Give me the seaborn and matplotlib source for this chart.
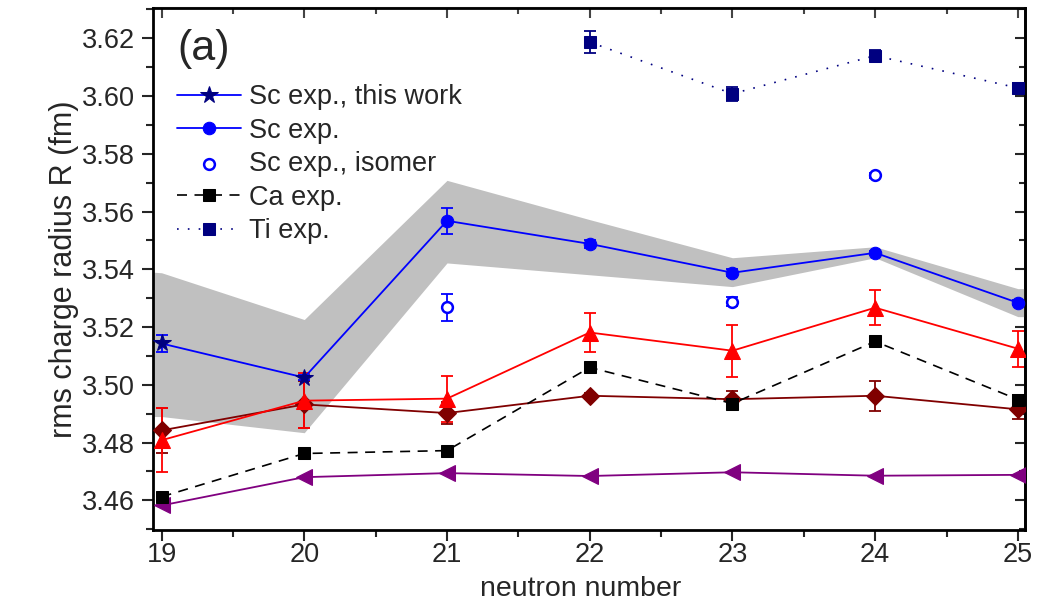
import numpy as np
import pandas as pd
import matplotlib
matplotlib.use("Agg")
import matplotlib.pyplot as plt
import seaborn as sns
from matplotlib.ticker import MultipleLocator

# ---------------- data ----------------
N_all = [19, 20, 21, 22, 23, 24, 25]
y_ticks = [3.46, 3.48, 3.50, 3.52, 3.54, 3.56, 3.58, 3.60, 3.62]

sc_this_N = [19, 20]
sc_this_R = [3.5143, 3.5025]
sc_this_err = [0.0030, 0.0010]

sc_exp_N = [21, 22, 23, 24, 25]
sc_exp_R = [3.5568, 3.5488, 3.5388, 3.5457, 3.5284]
sc_exp_err = [0.0045, 0.0015, 0.0012, 0.0008, 0.0008]

iso_N = [21, 23, 24]
iso_R = [3.5268, 3.5288, 3.5725]
iso_err = [0.0048, 0.0015, 0.0008]

ca_N = [19, 20, 21, 22, 23, 24, 25]
ca_R = [3.4612, 3.4762, 3.4772, 3.5060, 3.4935, 3.5150, 3.4949]
ca_err = [0.0010, 0.0008, 0.0008, 0.0008, 0.0010, 0.0008, 0.0015]

ti_N = [22, 23, 24, 25]
ti_R = [3.6187, 3.6008, 3.6140, 3.6028]
ti_err = [0.0038, 0.0025, 0.0020, 0.0018]

red_N = [19, 20, 21, 22, 23, 24, 25]
red_R = [3.4808, 3.4945, 3.4952, 3.5181, 3.5118, 3.5267, 3.5125]
red_err = [0.0110, 0.0095, 0.0080, 0.0067, 0.0090, 0.0060, 0.0062]

dred_N = [19, 20, 21, 22, 23, 24, 25]
dred_R = [3.4842, 3.4932, 3.4902, 3.4962, 3.4950, 3.4962, 3.4915]
dred_err = [0.0077, 0.0080, 0.0038, 0.0010, 0.0030, 0.0052, 0.0035]

purp_N = [19, 20, 21, 22, 23, 24, 25]
purp_R = [3.4582, 3.4680, 3.4694, 3.4684, 3.4697, 3.4685, 3.4688]

band_N = [18.94, 19, 20, 21, 22, 23, 24, 25, 25.06]
band_hi = [3.5390, 3.5388, 3.5226, 3.5708, 3.5572, 3.5440, 3.5478, 3.5333, 3.5333]
band_lo = [3.4890, 3.4890, 3.4834, 3.5422, 3.5381, 3.5340, 3.5440, 3.5236, 3.5236]

# ---------------- style ----------------
sns.set_style("ticks")
plt.rcParams["font.family"] = ["Liberation Sans", "DejaVu Sans"]

fig = plt.figure(figsize=(10.43, 6.03), dpi=100)
ax = fig.add_axes([153 / 1043, 1 - 530 / 603, (1025 - 153) / 1043, (530 - 8) / 603])

BLUE = "#0000FF"
NAVY = "#000080"
RED = "#FF0000"
DRED = "#800000"
PURP = "#800080"

# grey uncertainty band
ax.fill_between(band_N, band_lo, band_hi, color="#C0C0C0", lw=0, zorder=1)

ekw = dict(fmt="none", capsize=4.5, elinewidth=1.3, capthick=1.3, zorder=3)

# purple (no legend)
sns.lineplot(x=purp_N, y=purp_R, ax=ax, color=PURP, marker="<", markersize=11,
             markeredgecolor=PURP, lw=1.3, legend=False, zorder=4)

# dark red diamonds
ax.errorbar(dred_N, dred_R, yerr=dred_err, ecolor=DRED, **ekw)
sns.lineplot(x=dred_N, y=dred_R, ax=ax, color=DRED, marker="D", markersize=9,
             markeredgecolor=DRED, lw=1.3, legend=False, zorder=4)

# red triangles
ax.errorbar(red_N, red_R, yerr=red_err, ecolor=RED, **ekw)
sns.lineplot(x=red_N, y=red_R, ax=ax, color=RED, marker="^", markersize=11,
             markeredgecolor=RED, lw=1.3, legend=False, zorder=4)

# Ca exp
ax.errorbar(ca_N, ca_R, yerr=ca_err, ecolor="black", **ekw)
sns.lineplot(x=ca_N, y=ca_R, ax=ax, color="black", marker="s", markersize=8,
             markeredgecolor="black", lw=1.2, dashes=False, linestyle=(0, (6, 4.5)),
             label="Ca exp.", zorder=4)

# Ti exp
ax.errorbar(ti_N, ti_R, yerr=ti_err, ecolor=NAVY, **ekw)
sns.lineplot(x=ti_N, y=ti_R, ax=ax, color=NAVY, marker="s", markersize=8,
             markeredgecolor=NAVY, lw=1.2, dashes=False, linestyle=(0, (1, 5.5)),
             label="Ti exp.", zorder=4)

# Sc: connector between this work and previous experiments
ax.plot([sc_this_N[-1], sc_exp_N[0]], [sc_this_R[-1], sc_exp_R[0]], color=BLUE, lw=1.3, zorder=4)

ax.errorbar(sc_this_N, sc_this_R, yerr=sc_this_err, ecolor=BLUE, **ekw)
sns.lineplot(x=sc_this_N, y=sc_this_R, ax=ax, color=BLUE, marker="*", markersize=13,
             markeredgecolor=NAVY, markerfacecolor=NAVY, lw=1.3, label="Sc exp., this work", zorder=5)

ax.errorbar(sc_exp_N, sc_exp_R, yerr=sc_exp_err, ecolor=BLUE, **ekw)
sns.lineplot(x=sc_exp_N, y=sc_exp_R, ax=ax, color=BLUE, marker="o", markersize=9,
             markeredgecolor=BLUE, lw=1.3, label="Sc exp.", zorder=5)

ax.errorbar(iso_N, iso_R, yerr=iso_err, ecolor=BLUE, **ekw)
sns.scatterplot(x=iso_N, y=iso_R, ax=ax, marker="o", s=60, facecolor="white",
                edgecolor=BLUE, linewidth=1.8, label="Sc exp., isomer", zorder=5)

# legend
handles, labels = ax.get_legend_handles_labels()
order = ["Sc exp., this work", "Sc exp.", "Sc exp., isomer", "Ca exp.", "Ti exp."]
hmap = dict(zip(labels, handles))
leg = ax.legend([hmap[k] for k in order], order, loc="upper left",
                frameon=False, fontsize=19.5,
                handlelength=2.35, handletextpad=0.3, labelspacing=0.28,
                borderaxespad=0.0, borderpad=0.0, numpoints=1)
leg.set_bbox_to_anchor((24 / 872, 1 - (84 - 8) / 522), transform=ax.transAxes)

ax.text(0.028, 0.96, "(a)", transform=ax.transAxes, fontsize=31, va="top", ha="left")

# axes
ax.set_xlim(18.94, 25.05)
ax.set_ylim(3.4497, 3.6305)
ax.set_xticks(N_all)
ax.set_yticks(y_ticks)
ax.set_yticklabels([f"{v:.2f}" for v in y_ticks])
ax.xaxis.set_minor_locator(MultipleLocator(0.5))
ax.yaxis.set_minor_locator(MultipleLocator(0.01))

ax.tick_params(axis="both", which="major", direction="out", length=8, width=1.5,
               labelsize=19.5, top=False, right=False)
ax.tick_params(axis="both", which="minor", direction="out", length=5, width=1.5,
               top=False, right=False)
ax.tick_params(axis="x", pad=1)
ax.tick_params(axis="y", pad=5)

# inward ticks on top and right
sec_x = ax.secondary_xaxis("top")
sec_x.set_xticks(N_all)
sec_x.xaxis.set_minor_locator(MultipleLocator(0.5))
sec_x.tick_params(which="major", direction="in", length=7, width=1.5, labeltop=False, color="#444444")
sec_x.tick_params(which="minor", direction="in", length=4, width=1.5, color="#444444")
sec_x.set_xticklabels([])
sec_x.spines["top"].set_color("#999999")
sec_y = ax.secondary_yaxis("right")
sec_y.set_yticks(y_ticks)
sec_y.yaxis.set_minor_locator(MultipleLocator(0.01))
sec_y.tick_params(which="major", direction="in", length=7, width=1.5, labelright=False)
sec_y.tick_params(which="minor", direction="in", length=4, width=1.5)
sec_y.set_yticklabels([])

for s in ax.spines.values():
    s.set_linewidth(2)
    s.set_color("black")
sec_y.spines["right"].set_linewidth(2)
sec_x.spines["top"].set_linewidth(1.5)

ax.set_xlabel("neutron number", fontsize=20.5, va="bottom")
ax.xaxis.set_label_coords(0.49, -(602 - 530) / 522)
ax.set_ylabel("rms charge radius R (fm)", fontsize=22, labelpad=2)

fig.savefig("out.png", dpi=100)
